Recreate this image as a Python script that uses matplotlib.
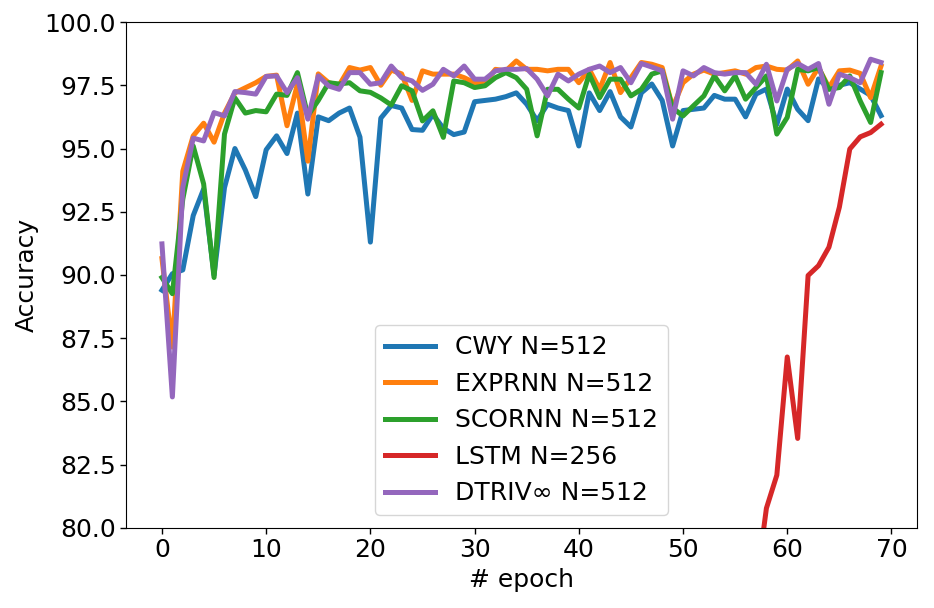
import numpy as np
import matplotlib
matplotlib.use("Agg")
import matplotlib.pyplot as plt

# accuracy per epoch
epochs = np.arange(70)

cwy = [89.4, 90.05, 90.2, 92.35, 93.4, 90.0, 93.45, 95.0, 94.15, 93.1,
       94.95, 95.5, 94.8, 96.4, 93.2, 96.25, 96.1, 96.4, 96.6, 95.45,
       91.3, 96.2, 96.7, 96.6, 95.75, 95.72, 96.35, 95.8, 95.55, 95.65,
       96.85, 96.9, 96.95, 97.05, 97.2, 96.75, 96.1, 96.75, 96.6, 96.5,
       95.1, 97.2, 96.5, 97.25, 96.25, 95.85, 97.2, 97.55, 96.9, 95.1,
       96.5, 96.55, 96.6, 97.1, 96.95, 96.95, 96.25, 97.15, 97.35, 95.95,
       97.35, 96.55, 96.1, 97.75, 97.35, 97.5, 97.6, 97.35, 97.1, 96.3]

exprnn = [90.65, 87.15, 94.1, 95.5, 96.0, 95.25, 96.4, 97.2, 97.4, 97.6,
          97.85, 97.9, 95.9, 97.55, 94.5, 97.95, 97.6, 97.5, 98.2, 98.1,
          98.2, 97.5, 98.1, 97.95, 96.9, 98.07, 97.94, 97.94, 97.94, 97.8,
          97.6, 97.6, 98.13, 98.07, 98.46, 98.13, 98.13, 98.07, 98.13, 98.13,
          97.6, 98.13, 97.34, 98.4, 97.21, 97.8, 98.4, 98.33, 98.2, 96.62,
          97.6, 97.94, 98.1, 97.94, 98.0, 98.07, 97.94, 98.2, 98.26, 98.13,
          98.1, 98.46, 97.54, 98.2, 97.41, 98.07, 98.1, 97.97, 97.01, 98.26]

scornn = [89.9, 89.26, 93.0, 95.1, 93.6, 89.9, 95.57, 97.0, 96.4, 96.5,
          96.45, 97.15, 97.1, 98.0, 96.3, 96.9, 97.6, 97.55, 97.6, 97.28,
          97.22, 97.0, 96.72, 97.48, 97.28, 96.09, 96.49, 95.44, 97.67, 97.6,
          97.41, 97.48, 97.8, 98.0, 97.8, 97.34, 95.5, 97.34, 97.34, 96.95,
          96.6, 97.94, 97.01, 97.74, 97.74, 97.08, 97.34, 97.94, 98.07, 96.6,
          96.29, 96.69, 97.08, 97.87, 97.28, 97.87, 96.95, 97.41, 97.87, 95.57,
          96.23, 98.13, 98.07, 98.2, 97.34, 97.41, 97.87, 96.88, 96.03, 98.0]

# LSTM only enters the visible range near the end
lstm_epochs = np.arange(57, 70)
lstm = [77.66, 80.78, 82.09, 86.76, 83.54, 89.98, 90.37, 91.1, 92.68,
        94.98, 95.46, 95.63, 95.96]

dtriv = [91.23, 85.18, 93.46, 95.41, 95.3, 96.42, 96.29, 97.25, 97.21, 97.15,
         97.85, 97.87, 97.21, 97.8, 96.16, 97.87, 97.47, 97.34, 98.0, 98.0,
         97.54, 97.6, 98.26, 97.8, 97.67, 97.3, 97.54, 98.13, 97.87, 98.26,
         97.74, 97.74, 98.07, 98.13, 98.13, 98.16, 97.74, 97.08, 97.94, 97.67,
         97.94, 98.13, 98.26, 98.0, 98.2, 97.6, 98.36, 98.22, 98.07, 96.16,
         98.07, 97.87, 98.2, 98.0, 97.94, 98.0, 98.0, 97.54, 98.33, 96.88,
         98.13, 98.36, 98.13, 98.36, 96.75, 97.94, 97.8, 97.6, 98.53, 98.4]

fs = 18
fig = plt.figure(figsize=(9.34, 6.08), dpi=100)
ax = fig.add_axes([0.1349, 0.1316, 0.8469, 0.8322])

lw = 3.6
ax.plot(epochs, cwy, lw=lw, label="CWY N=512")
ax.plot(epochs, exprnn, lw=lw, label="EXPRNN N=512")
ax.plot(epochs, scornn, lw=lw, label="SCORNN N=512")
ax.plot(lstm_epochs, lstm, lw=lw, label="LSTM N=256")
ax.plot(epochs, dtriv, lw=lw, label="DTRIV\u221e N=512")

ax.set_xlim(-3.45, 72.45)
ax.set_ylim(80, 100)
ax.set_yticks(np.arange(80, 100.1, 2.5))
ax.yaxis.set_major_formatter(matplotlib.ticker.FormatStrFormatter('%.1f'))
ax.tick_params(labelsize=fs, length=4, width=1)
ax.set_xlabel("# epoch", fontsize=fs)
ax.set_ylabel("Accuracy", fontsize=fs)

ax.legend(loc="lower center", fontsize=fs)

plt.savefig("out.png", dpi=100)
plt.close()
